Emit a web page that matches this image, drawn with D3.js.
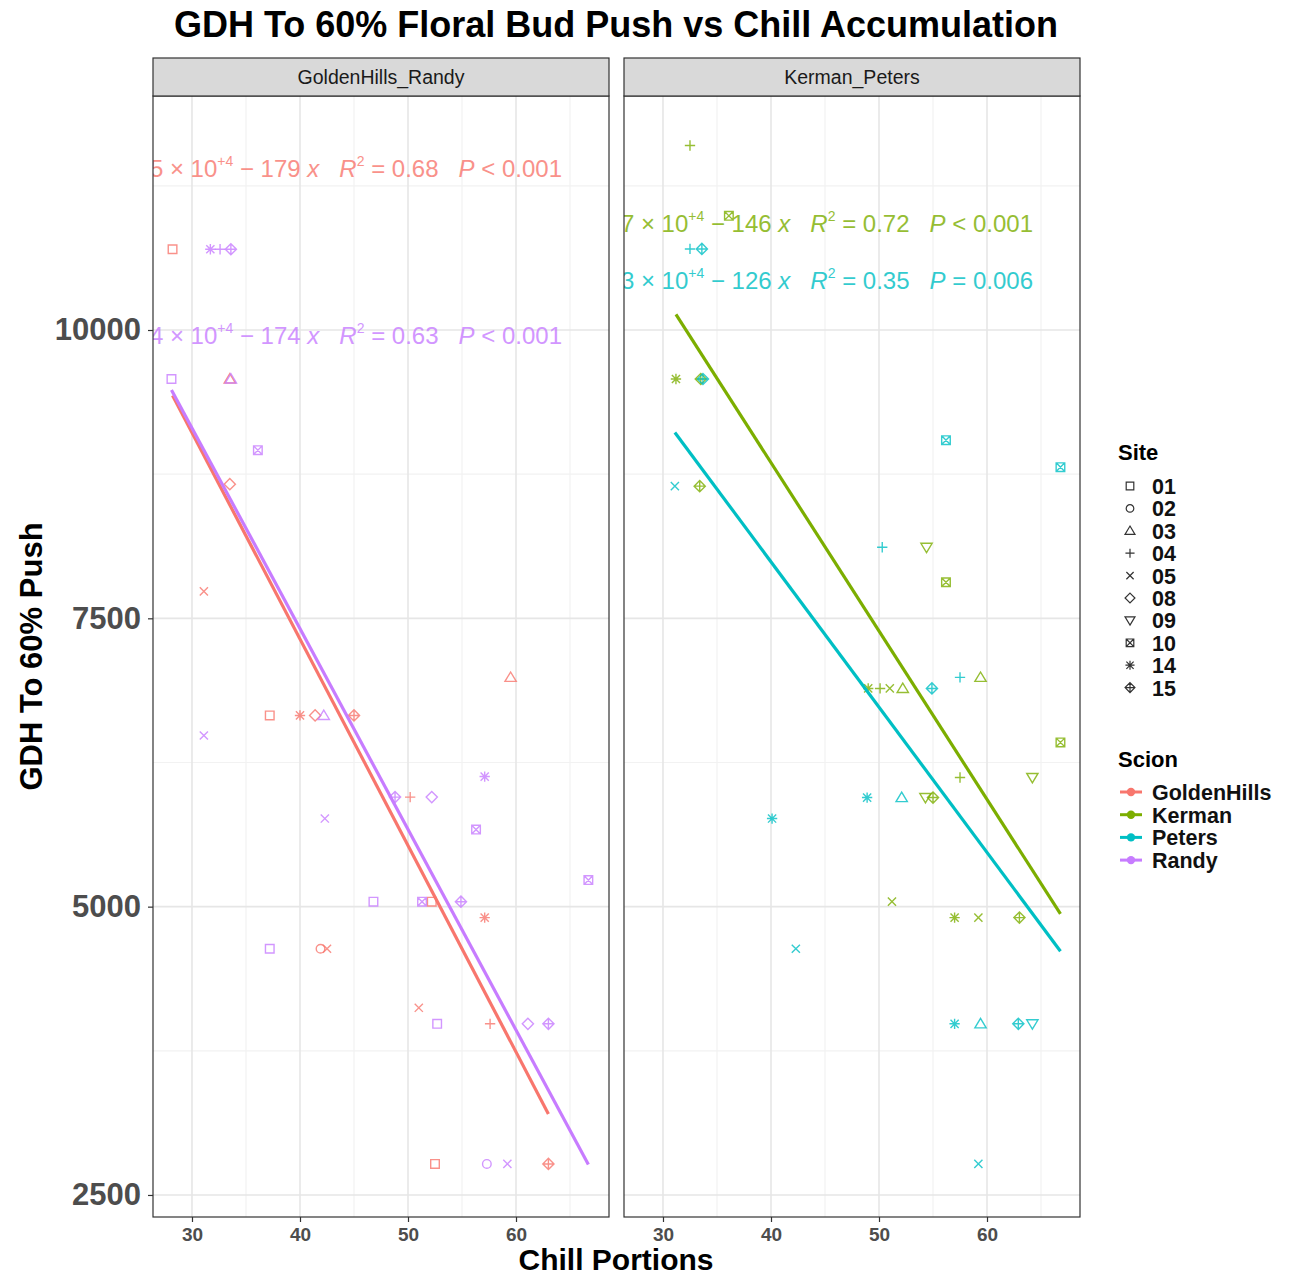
<!DOCTYPE html>
<html>
<head>
<meta charset="utf-8">
<script src="https://cdn.jsdelivr.net/npm/d3@7"></script>
<style>
body { margin: 0; background: #fff; }
text { font-family: "Liberation Sans", Arial, sans-serif; }
</style>
</head>
<body>
<svg id="chart" width="1299" height="1279"></svg>
<script>
var scions      = ["GoldenHills", "Kerman", "Peters", "Randy"];
var scionColors = ["#F8766D", "#7CAE00", "#00BFC4", "#C77CFF"];
var sites       = ["01", "02", "03", "04", "05", "08", "09", "10", "14", "15"];
var facets      = ["GoldenHills_Randy", "Kerman_Peters"];
var facetScions = [["GoldenHills", "Randy"], ["Kerman", "Peters"]];
var xTicks      = [30, 40, 50, 60];
var xMinor      = [35, 45, 55, 65];
var yTicks      = [2500, 5000, 7500, 10000];
var yMinor      = [3750, 6250, 8750, 11250];

// [site, chill portions, GDH to 60% push]
var goldenHillsPoints = [
    ["01", 28.2, 10700], ["03", 33.5, 9575], ["08", 33.5, 8663], ["05", 31.1, 7734],
    ["01", 37.2, 6658], ["14", 40.0, 6658], ["08", 41.4, 6658], ["15", 45.0, 6658],
    ["03", 59.5, 6988], ["04", 50.2, 5950], ["01", 52.2, 5043], ["14", 57.1, 4905],
    ["02", 41.9, 4635], ["05", 42.5, 4635], ["05", 51.0, 4123], ["04", 57.6, 3984],
    ["01", 52.5, 2769], ["15", 63.0, 2769]
];
var randyPoints = [
    ["14", 31.7, 10700], ["04", 32.6, 10700], ["15", 33.6, 10700], ["01", 28.1, 9575],
    ["03", 33.6, 9575], ["10", 36.1, 8958], ["05", 31.1, 6484], ["03", 42.2, 6658],
    ["14", 57.1, 6128], ["15", 48.8, 5950], ["08", 52.2, 5950], ["05", 42.3, 5764],
    ["10", 56.3, 5668], ["01", 46.8, 5043], ["10", 51.3, 5043], ["15", 54.9, 5043],
    ["01", 37.2, 4635], ["01", 52.7, 3984], ["08", 61.1, 3984], ["15", 63.0, 3984],
    ["02", 57.3, 2769], ["05", 59.2, 2769], ["10", 66.7, 5230]
];
var kermanPoints = [
    ["04", 32.5, 11600], ["10", 36.1, 10990], ["14", 31.2, 9575], ["15", 33.5, 9575],
    ["15", 33.4, 8646], ["09", 54.4, 8116], ["10", 56.2, 7813], ["03", 59.4, 6988],
    ["14", 49.0, 6892], ["04", 50.1, 6892], ["05", 51.0, 6892], ["03", 52.2, 6892],
    ["10", 66.8, 6424], ["04", 57.5, 6120], ["09", 64.2, 6120], ["09", 54.3, 5946],
    ["15", 55.0, 5946], ["05", 51.2, 5043], ["14", 57.0, 4905], ["05", 59.2, 4905],
    ["15", 63.0, 4905]
];
var petersPoints = [
    ["04", 32.5, 10703], ["15", 33.6, 10703], ["15", 33.7, 9575], ["10", 56.2, 9045],
    ["10", 66.8, 8811], ["05", 31.1, 8646], ["04", 50.3, 8116], ["04", 57.5, 6988],
    ["15", 54.9, 6892], ["14", 48.9, 5946], ["03", 52.1, 5946], ["14", 40.1, 5764],
    ["05", 42.3, 4635], ["14", 57.0, 3984], ["03", 59.4, 3984], ["15", 62.9, 3984],
    ["09", 64.2, 3984], ["05", 59.2, 2769]
];
var scionPoints = [goldenHillsPoints, kermanPoints, petersPoints, randyPoints];

// fitted lines (same order as scions)
var fitIntercept = [14480, 14690, 13030, 14370];
var fitSlope     = [-179, -146, -126, -174];
var fitCoefText  = ["1.45", "1.47", "1.3", "1.44"];
var fitR2        = ["0.68", "0.72", "0.35", "0.63"];
var fitP         = ["< 0.001", "< 0.001", "= 0.006", "< 0.001"];
var fitLabelY    = [11405, 10928, 10434, 9957];

var svg = d3.select("#chart");

var panelW = 456, panelTop = 96, panelBottom = 1217;
var panelX = [153, 624];

var x = d3.scaleLinear().domain([26.39, 68.61]).range([0, panelW]);
var y = d3.scaleLinear().domain([2309, 12029]).range([panelBottom, panelTop]);

function shapePath(site, s) {
    var sq = "M" + (-s) + "," + (-s) + "H" + s + "V" + s + "H" + (-s) + "Z";
    var pl = "M" + (-s * 1.2) + ",0H" + (s * 1.2) + "M0," + (-s * 1.2) + "V" + (s * 1.2);
    var k = s * 0.95;
    var cr = "M" + (-k) + "," + (-k) + "L" + k + "," + k + "M" + (-k) + "," + k + "L" + k + "," + (-k);
    var d = s * 1.3;
    var dm = "M0," + (-d) + "L" + d + ",0L0," + d + "L" + (-d) + ",0Z";
    var t = s * 1.25;
    var tu = "M0," + (-t) + "L" + (t * 1.05) + "," + (t * 0.75) + "L" + (-t * 1.05) + "," + (t * 0.75) + "Z";
    var td = "M0," + t + "L" + (t * 1.05) + "," + (-t * 0.75) + "L" + (-t * 1.05) + "," + (-t * 0.75) + "Z";
    var ci = "M" + s + ",0A" + s + "," + s + " 0 1,1 " + (-s) + ",0A" + s + "," + s + " 0 1,1 " + s + ",0Z";
    var sx = "M" + (-s) + "," + (-s) + "L" + s + "," + s + "M" + (-s) + "," + s + "L" + s + "," + (-s);
    var dp = "M0," + (-d) + "V" + d + "M" + (-d) + ",0H" + d;
    switch (site) {
        case "01": return sq;
        case "02": return ci;
        case "03": return tu;
        case "04": return pl;
        case "05": return cr;
        case "08": return dm;
        case "09": return td;
        case "10": return sq + sx;
        case "14": return pl + cr;
        case "15": return dm + dp;
    }
}

facets.forEach(function(facet, fi) {

    var g = svg.append("g").attr("transform", "translate(" + panelX[fi] + ",0)");

    g.append("clipPath").attr("id", "clip" + fi)
        .append("rect").attr("x", 0).attr("y", panelTop).attr("width", panelW).attr("height", panelBottom - panelTop);

    g.append("rect").attr("x", 0).attr("y", panelTop).attr("width", panelW).attr("height", panelBottom - panelTop)
        .attr("fill", "#fff");

    // grid
    g.selectAll(".xminor").data(xMinor).enter().append("line")
        .attr("x1", function(d){return x(d);}).attr("x2", function(d){return x(d);})
        .attr("y1", panelTop).attr("y2", panelBottom).attr("stroke", "#F2F2F2").attr("stroke-width", 1.2);
    g.selectAll(".yminor").data(yMinor).enter().append("line")
        .attr("x1", 0).attr("x2", panelW)
        .attr("y1", function(d){return y(d);}).attr("y2", function(d){return y(d);})
        .attr("stroke", "#F2F2F2").attr("stroke-width", 1.2);
    g.selectAll(".xmajor").data(xTicks).enter().append("line")
        .attr("x1", function(d){return x(d);}).attr("x2", function(d){return x(d);})
        .attr("y1", panelTop).attr("y2", panelBottom).attr("stroke", "#E6E6E6").attr("stroke-width", 1.6);
    g.selectAll(".ymajor").data(yTicks).enter().append("line")
        .attr("x1", 0).attr("x2", panelW)
        .attr("y1", function(d){return y(d);}).attr("y2", function(d){return y(d);})
        .attr("stroke", "#E6E6E6").attr("stroke-width", 1.6);

    var plot = g.append("g").attr("clip-path", "url(#clip" + fi + ")");

    facetScions[fi].forEach(function(scion) {
        var si = scions.indexOf(scion);
        var pts = scionPoints[si];
        var col = scionColors[si];

        plot.selectAll(".pt" + si).data(pts).enter().append("path")
            .attr("transform", function(d){return "translate(" + x(d[1]) + "," + y(d[2]) + ")";})
            .attr("d", function(d){return shapePath(d[0], 4.3);})
            .attr("fill", "none").attr("stroke", col).attr("stroke-width", 1.4).attr("opacity", 0.8);

        var ext = d3.extent(pts, function(d){return d[1];});
        var line = d3.line().x(function(d){return x(d);})
                            .y(function(d){return y(fitIntercept[si] + fitSlope[si] * d);});
        plot.append("path").attr("d", line(ext)).attr("fill", "none")
            .attr("stroke", col).attr("stroke-width", 3.2);
    });

    facetScions[fi].forEach(function(scion) {
        var si = scions.indexOf(scion);
        var col = scionColors[si];
        var txt = plot.append("text").attr("x", 409).attr("y", y(fitLabelY[si]) + 9)
            .attr("text-anchor", "end").attr("font-size", 24).attr("fill", col).attr("opacity", 0.8)
            .style("white-space", "pre");
        txt.append("tspan").attr("font-style", "italic").text("y");
        txt.append("tspan").text(" = " + fitCoefText[si] + " \u00d7 10");
        txt.append("tspan").attr("font-size", 14).attr("dy", -11).text("+4");
        txt.append("tspan").attr("dy", 11).text(" \u2212 " + Math.abs(fitSlope[si]) + " ");
        txt.append("tspan").attr("font-style", "italic").text("x");
        txt.append("tspan").text("   ");
        txt.append("tspan").attr("font-style", "italic").text("R");
        txt.append("tspan").attr("font-size", 14).attr("dy", -11).text("2");
        txt.append("tspan").attr("dy", 11).text(" = " + fitR2[si] + "   ");
        txt.append("tspan").attr("font-style", "italic").text("P");
        txt.append("tspan").text(" " + fitP[si]);
    });

    // panel border
    g.append("rect").attr("x", 0).attr("y", panelTop).attr("width", panelW).attr("height", panelBottom - panelTop)
        .attr("fill", "none").attr("stroke", "#333").attr("stroke-width", 1.2);

    // strip
    g.append("rect").attr("x", 0).attr("y", 58).attr("width", panelW).attr("height", panelTop - 58)
        .attr("fill", "#D9D9D9").attr("stroke", "#333").attr("stroke-width", 1.2);
    g.append("text").attr("x", panelW / 2).attr("y", 84).attr("text-anchor", "middle")
        .attr("font-size", 19.5).attr("fill", "#1A1A1A").text(facet);

    // x axis
    var xAxis = d3.axisBottom(x).tickValues(xTicks).tickSize(5).tickPadding(6);
    var xg = g.append("g").attr("transform", "translate(0," + panelBottom + ")").call(xAxis);
    xg.select(".domain").remove();
    xg.selectAll("line").attr("stroke", "#333").attr("stroke-width", 1.2);
    xg.selectAll("text").attr("font-size", 19).attr("font-weight", "bold").attr("fill", "#4D4D4D")
        .attr("font-family", "Liberation Sans, Arial, sans-serif");
});

// y axis (left panel only)
var yAxis = d3.axisLeft(y).tickValues(yTicks).tickFormat(d3.format("d")).tickSize(5).tickPadding(7);
var yg = svg.append("g").attr("transform", "translate(" + panelX[0] + ",0)").call(yAxis);
yg.select(".domain").remove();
yg.selectAll("line").attr("stroke", "#333").attr("stroke-width", 1.2);
yg.selectAll("text").attr("font-size", 31).attr("font-weight", "bold").attr("fill", "#4D4D4D")
    .attr("font-family", "Liberation Sans, Arial, sans-serif");

// titles
svg.append("text").attr("x", 616).attr("y", 37).attr("text-anchor", "middle")
    .attr("font-size", 36).attr("font-weight", "bold").attr("fill", "#000")
    .text("GDH To 60% Floral Bud Push vs Chill Accumulation");
svg.append("text").attr("x", 616).attr("y", 1270).attr("text-anchor", "middle")
    .attr("font-size", 30).attr("font-weight", "bold").attr("fill", "#000")
    .text("Chill Portions");
svg.append("text").attr("transform", "translate(42," + ((panelTop + panelBottom) / 2) + ") rotate(-90)")
    .attr("text-anchor", "middle").attr("font-size", 31).attr("font-weight", "bold").attr("fill", "#000")
    .text("GDH To 60% Push");

// legends
var lg = svg.append("g");
lg.append("text").attr("x", 1118).attr("y", 460).attr("font-size", 22).attr("font-weight", "bold").text("Site");
lg.selectAll(".site").data(sites).enter().append("path")
    .attr("transform", function(d, i){return "translate(1130," + (486 + i * 22.4) + ")";})
    .attr("d", function(d){return shapePath(d, 3.8);})
    .attr("fill", "none").attr("stroke", "#333").attr("stroke-width", 1.2);
lg.selectAll(".sitelab").data(sites).enter().append("text")
    .attr("x", 1152).attr("y", function(d, i){return 494 + i * 22.4;})
    .attr("font-size", 21.5).attr("font-weight", "bold").attr("fill", "#111").text(function(d){return d;});

lg.append("text").attr("x", 1118).attr("y", 767).attr("font-size", 22).attr("font-weight", "bold").text("Scion");
scions.forEach(function(s, i) {
    var cy = 792 + i * 22.7;
    lg.append("line").attr("x1", 1120).attr("x2", 1142).attr("y1", cy).attr("y2", cy)
        .attr("stroke", scionColors[i]).attr("stroke-width", 3);
    lg.append("circle").attr("cx", 1131).attr("cy", cy).attr("r", 4.2).attr("fill", scionColors[i]);
    lg.append("text").attr("x", 1152).attr("y", cy + 8).attr("font-size", 21.5).attr("font-weight", "bold")
        .attr("fill", "#111").text(s);
});
</script>
</body>
</html>
